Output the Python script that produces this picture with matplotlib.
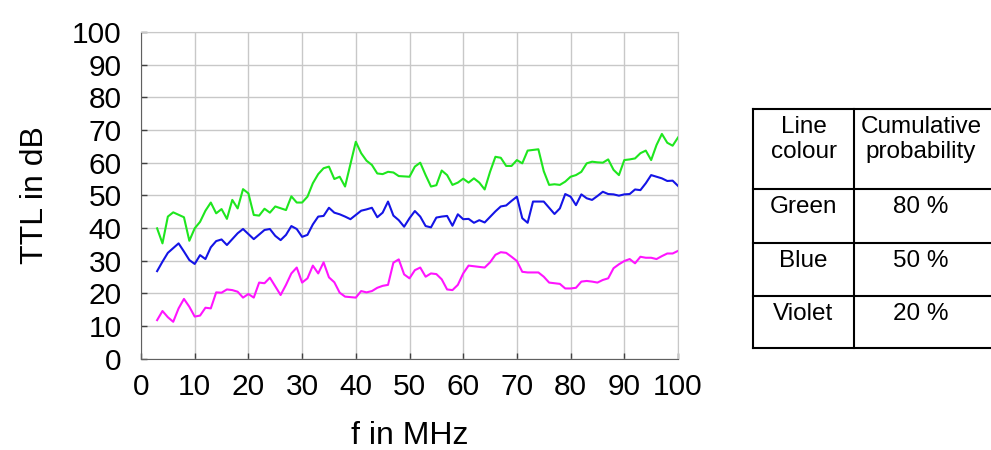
import matplotlib
matplotlib.use('Agg')
import matplotlib.pyplot as plt
from matplotlib.lines import Line2D

plt.rcParams['font.family'] = ['Liberation Sans', 'DejaVu Sans']

# Green line (80 %)
f_green = [3, 4, 5, 6, 8, 9, 10, 11, 12, 13, 14, 15, 16, 17, 18, 19, 20, 21, 22, 23,
           24, 25, 27, 28, 29, 30, 31, 32, 33, 34, 35, 36, 37, 38, 40, 41, 42, 43, 44, 45,
           46, 47, 48, 50, 51, 52, 53, 54, 55, 56, 57, 58, 59, 60, 61, 62, 63, 64, 65, 66,
           67, 68, 69, 70, 71, 72, 74, 75, 76, 77, 78, 79, 80, 81, 82, 83, 84, 85, 86, 87,
           88, 89, 90, 91, 92, 93, 94, 95, 96, 97, 98, 99, 100]
ttl_green = [39.9, 35.3, 43.5, 44.8, 43.3, 36.1, 39.9, 41.9, 45.3, 47.8, 44.5, 45.8, 42.8, 48.6, 46.0, 51.9, 50.6, 44.0, 43.8, 45.9,
             44.7, 46.6, 45.5, 49.7, 47.8, 47.8, 49.6, 53.7, 56.5, 58.3, 58.8, 55.0, 55.7, 52.7, 66.4, 62.9, 60.6, 59.3, 56.7, 56.5,
             57.2, 57.0, 55.9, 55.7, 58.8, 60.0, 56.2, 52.7, 53.1, 57.6, 56.2, 53.2, 53.9, 55.1, 53.9, 55.2, 53.9, 51.8, 57.2, 61.8,
             61.5, 59.0, 59.0, 60.8, 59.8, 63.7, 64.1, 57.4, 53.2, 53.4, 53.2, 54.2, 55.7, 56.2, 57.2, 59.8, 60.3, 60.1, 60.0, 61.0,
             57.8, 56.2, 60.8, 61.0, 61.3, 62.9, 63.7, 60.8, 65.4, 68.8, 66.1, 65.2, 67.7]

# Blue line (50 %)
f_blue = [3, 4, 5, 7, 8, 9, 10, 11, 12, 13, 14, 15, 16, 18, 19, 21, 23, 24, 25, 26,
          27, 28, 29, 30, 31, 32, 33, 34, 35, 36, 37, 38, 39, 40, 41, 42, 43, 44, 45, 46,
          47, 48, 49, 50, 51, 52, 53, 54, 55, 56, 57, 58, 59, 60, 61, 62, 63, 64, 65, 66,
          67, 68, 69, 70, 71, 72, 73, 74, 75, 76, 77, 78, 79, 80, 81, 82, 83, 84, 85, 86,
          87, 88, 89, 90, 91, 92, 93, 94, 95, 96, 97, 98, 99, 100]
ttl_blue = [26.8, 29.7, 32.4, 35.3, 32.8, 30.2, 29.0, 31.7, 30.5, 34.1, 36.0, 36.5, 34.8, 38.4, 39.7, 36.6, 39.4, 39.7, 37.6, 36.3,
            37.9, 40.6, 39.7, 37.3, 37.9, 41.1, 43.5, 43.7, 46.2, 44.7, 44.2, 43.5, 42.7, 44.0, 45.3, 45.7, 46.2, 43.3, 44.7, 48.1,
            43.8, 42.4, 40.4, 43.0, 45.2, 43.5, 40.6, 40.2, 43.2, 43.5, 43.7, 40.7, 44.2, 42.7, 42.8, 41.6, 42.4, 41.7, 43.4, 45.1,
            46.6, 46.9, 48.3, 49.6, 43.0, 41.6, 48.1, 48.1, 48.1, 46.2, 44.3, 46.0, 50.4, 49.6, 47.0, 50.3, 49.1, 48.6, 49.8, 51.1,
            50.4, 50.3, 49.9, 50.3, 50.4, 51.8, 51.6, 53.7, 56.2, 55.7, 55.2, 54.4, 54.5, 52.9]

# Violet line (20 %)
f_violet = [3, 4, 5, 6, 7, 8, 9, 10, 11, 12, 13, 14, 15, 16, 17, 18, 19, 20, 21, 22,
            23, 24, 26, 27, 28, 29, 30, 31, 32, 33, 34, 35, 36, 37, 38, 40, 41, 42, 43, 44,
            45, 46, 47, 48, 49, 50, 51, 52, 53, 54, 55, 56, 57, 58, 59, 60, 61, 64, 65, 66,
            67, 68, 69, 70, 71, 72, 74, 75, 76, 77, 78, 79, 80, 81, 82, 83, 84, 85, 86, 87,
            88, 89, 90, 91, 92, 93, 94, 95, 96, 97, 98, 99, 100]
ttl_violet = [11.8, 14.6, 12.7, 11.3, 15.4, 18.3, 15.9, 12.9, 13.2, 15.6, 15.4, 20.3, 20.2, 21.2, 21.0, 20.5, 18.7, 19.8, 18.7, 23.3,
              23.1, 24.8, 19.5, 22.6, 26.1, 27.9, 23.3, 24.6, 28.5, 26.1, 29.5, 24.9, 23.4, 20.2, 19.0, 18.7, 20.7, 20.3, 20.7, 21.7,
              22.3, 22.6, 29.4, 30.4, 25.8, 24.6, 27.1, 27.9, 25.1, 26.1, 25.9, 24.3, 21.2, 21.0, 22.6, 26.1, 28.5, 27.9, 29.5, 31.8,
              32.6, 32.4, 31.2, 29.9, 26.6, 26.4, 26.4, 25.1, 23.3, 23.1, 22.9, 21.5, 21.5, 21.7, 23.6, 23.8, 23.6, 23.3, 24.1, 24.6,
              27.7, 28.9, 29.9, 30.5, 29.2, 31.2, 30.9, 30.9, 30.5, 31.4, 32.2, 32.2, 33.0]

# Table content
table_header = [['Line', 'colour'], ['Cumulative', 'probability']]
table_rows = [('Green', '80 %'), ('Blue', '50 %'), ('Violet', '20 %')]

W, H = 991, 450
fig = plt.figure(figsize=(W / 100, H / 100), dpi=100)
ax = fig.add_axes([141 / W, 1 - 358.7 / H, (678 - 141) / W, (358.7 - 32) / H])

ax.plot(f_green, ttl_green, color='#1ee61e', linewidth=1.5)
ax.plot(f_blue, ttl_blue, color='#1414e6', linewidth=1.5)
ax.plot(f_violet, ttl_violet, color='#ff14ff', linewidth=1.5)

ax.set_xlim(0, 100)
ax.set_ylim(0, 100)
ax.set_xticks(range(0, 101, 10))
ax.set_yticks(range(0, 101, 10))
ax.grid(True, color='#c8c8c8', linewidth=1.0)
ax.set_axisbelow(True)
for side in ['left', 'bottom']:
    ax.spines[side].set_color('#606060')
for side in ['top', 'right']:
    ax.spines[side].set_color('#c8c8c8')
ax.tick_params(direction='in', length=4, width=1, color='#404040', labelsize=21.5)
ax.tick_params(axis='x', pad=10)
ax.tick_params(axis='y', pad=14)
ax.set_xlabel('f in MHz', fontsize=23, labelpad=15)
ax.set_ylabel('TTL in dB', fontsize=23, labelpad=16)


def fx(px):
    return px / W


def fy(py):
    return 1 - py / H


# Table drawn in figure pixels
left, mid, right = 753, 854, 992
row_y = [109, 189, 243, 296, 348]
for y in row_y:
    fig.add_artist(Line2D([fx(left), fx(right)], [fy(y), fy(y)], color='black', linewidth=1.5))
for x in [left, mid]:
    fig.add_artist(Line2D([fx(x), fx(x)], [fy(row_y[0]), fy(row_y[-1])], color='black', linewidth=1.5))

c1 = (left + mid) / 2
c2 = (mid + right) / 2
for i, line in enumerate(table_header[0]):
    fig.text(fx(c1), fy(127 + 25 * i), line, ha='center', va='center', fontsize=17.5)
for i, line in enumerate(table_header[1]):
    fig.text(fx(c2 - 2), fy(127 + 25 * i), line, ha='center', va='center', fontsize=17.5)
for i, (name, prob) in enumerate(table_rows):
    y = row_y[i + 1] + 18
    fig.text(fx(c1), fy(y), name, ha='center', va='center', fontsize=17.5)
    fig.text(fx(c2 - 2), fy(y), prob, ha='center', va='center', fontsize=17.5)

fig.savefig('out.png', dpi=100)
